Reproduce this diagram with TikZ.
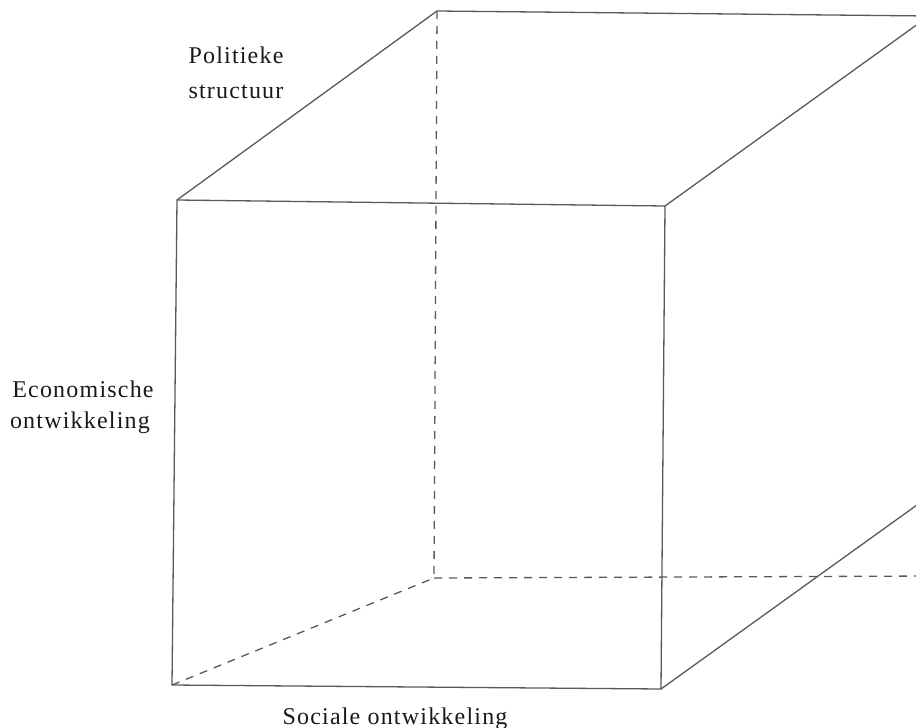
\documentclass[tikz,border=0pt]{standalone}
\usepackage{fontspec}
\setmainfont[LetterSpace=5]{Liberation Serif}
\begin{document}
\begin{tikzpicture}[x=1pt,y=-1pt,
  edge/.style={draw=black!65,line width=1.3pt},
  hidden/.style={edge,dash pattern=on 8pt off 7pt},
  lbl/.style={font=\fontsize{24}{31}\selectfont,anchor=base,inner sep=0pt,text=black!90}]
\useasboundingbox (0,0) rectangle (916,728);
\clip (0,0) rectangle (916,728);
% corners
\coordinate (FTL) at (177,200);
\coordinate (FTR) at (665,206);
\coordinate (FBL) at (172,685);
\coordinate (FBR) at (661,689);
\coordinate (BTL) at (437,11);
\coordinate (BTR) at (929,16);
\coordinate (BBL) at (434,578);
\coordinate (BBR) at (935,576);
\coordinate (BRD) at (935,492);
% visible edges
\draw[edge] (FTL) -- (FTR) -- (FBR) -- (FBL) -- cycle;
\draw[edge] (FTL) -- (BTL) -- (BTR);
\draw[edge] (FTR) -- (BTR);
\draw[edge] (FBR) -- (BRD);
% hidden edges
\draw[hidden] (BTL) -- (BBL);
\draw[hidden] (BBL) -- (BBR);
\draw[hidden] (FBL) -- (BBL);
% labels
\node[lbl] (pol1) at (236,63) {Politieke};
\node[lbl] (pol2) at (236,98) {structuur};
\node[lbl] (eco1) at (83,397) {Economische};
\node[lbl] (eco2) at (80,428) {ontwikkeling};
\node[lbl] (soc) at (395,724) {Sociale ontwikkeling};
\end{tikzpicture}
\end{document}
